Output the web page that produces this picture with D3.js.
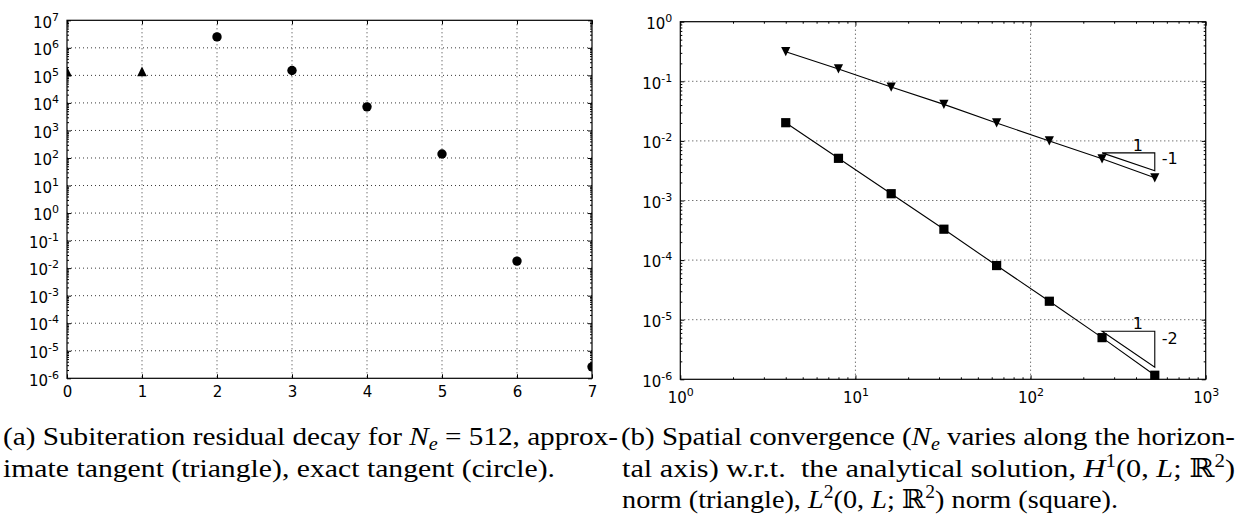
<!DOCTYPE html>
<html lang="en">
<head>
  <meta charset="UTF-8">
  <title>Residual decay and spatial convergence</title>
  <script src="https://cdn.jsdelivr.net/npm/d3@7"></script>
  <style>
    body { margin: 0; background: #fff; }
    .tick text { font-family: "DejaVu Sans", sans-serif; font-size: 15px; fill: #000; }
  </style>
</head>
<body>
  <svg id="chart" width="1238" height="516"></svg>
  <script>
    // (a) subiteration residual decay
    let iterApprox = [0, 1];
    let residualApprox = [1.4e5, 1.4e5];
    let iterExact = [2, 3, 4, 5, 6, 7];
    let residualExact = [2.5e6, 1.5e5, 7.2e3, 1.4e2, 1.8e-2, 2.6e-6];
    let iterTicks = [0, 1, 2, 3, 4, 5, 6, 7];
    let leftDecades = d3.range(-6, 8);

    // (b) spatial convergence
    let Ne = [4, 8, 16, 32, 64, 128, 256, 512];
    let errH1 = [0.314, 0.161, 0.080, 0.041, 0.020, 0.0100, 0.0050, 0.0024];
    let errL2 = [0.0202, 0.0051, 0.0013, 3.3e-4, 8.1e-5, 2.04e-5, 5.0e-6, 1.17e-6];
    let rightXDecades = [0, 1, 2, 3];
    let rightYDecades = d3.range(-6, 1);

    // slope markers: x span, top edge, order
    let slopeX = [256, 512];
    let slopeTop = [6.3e-3, 6.4e-6];
    let slopeOrder = [1, 2];

    let svg = d3.select('#chart');

    function minorTicks(decades) {
      let out = [];
      for (let k = 0; k < decades.length - 1; k++) {
        for (let m = 2; m <= 9; m++) out.push(m * Math.pow(10, decades[k]));
      }
      return out;
    }

    function supLabel(sel) {
      sel.each(function(d) {
        let t = d3.select(this);
        let e = Math.round(Math.log10(d));
        t.text(null);
        t.append('tspan').text('10');
        t.append('tspan').attr('dy', -7).attr('font-size', 11).text(e < 0 ? '-' + (-e) : e);
      });
    }

    function frame(g, x, y) {
      let [x0, x1] = x.range();
      let [y1, y0] = y.range();
      g.append('rect')
        .attr('x', x0).attr('y', y0)
        .attr('width', x1 - x0).attr('height', y1 - y0)
        .attr('fill', 'none').attr('stroke', '#000').attr('stroke-width', 1.2);
    }

    function grid(g, x, y, xv, yv) {
      let [x0, x1] = x.range();
      let [y1, y0] = y.range();
      g.selectAll('.gx').data(xv).join('line')
        .attr('x1', d => x(d)).attr('x2', d => x(d))
        .attr('y1', y0).attr('y2', y1);
      g.selectAll('.gy').data(yv).join('line')
        .attr('class', 'gy')
        .attr('x1', x0).attr('x2', x1)
        .attr('y1', d => y(d)).attr('y2', d => y(d));
      g.selectAll('line')
        .attr('stroke', '#222').attr('stroke-width', 0.9)
        .attr('stroke-dasharray', '1,3');
    }

    function sideTicks(g, x, y, xv, yv, xminor, yminor, size) {
      let [x0, x1] = x.range();
      let [y1, y0] = y.range();
      let defs = [
        [d3.axisLeft(y), 'translate(' + x0 + ',0)', yv, size],
        [d3.axisRight(y), 'translate(' + x1 + ',0)', yv, size],
        [d3.axisBottom(x), 'translate(0,' + y1 + ')', xv, size],
        [d3.axisTop(x), 'translate(0,' + y0 + ')', xv, size],
        [d3.axisLeft(y), 'translate(' + x0 + ',0)', yminor, size / 2],
        [d3.axisRight(y), 'translate(' + x1 + ',0)', yminor, size / 2],
        [d3.axisBottom(x), 'translate(0,' + y1 + ')', xminor, size / 2],
        [d3.axisTop(x), 'translate(0,' + y0 + ')', xminor, size / 2]
      ];
      defs.forEach(([ax, tr, vals, s]) => {
        let a = g.append('g').attr('transform', tr)
          .call(ax.tickValues(vals).tickSizeInner(-s).tickSizeOuter(0).tickFormat(''));
        a.select('.domain').remove();
        a.selectAll('.tick line').attr('stroke', '#000').attr('stroke-width', 1);
        a.selectAll('.tick text').remove();
      });
    }

    // ---------- left panel ----------
    let xL = d3.scaleLinear().domain([0, 7]).range([67, 592]);
    let yL = d3.scaleLog().domain([1e-6, 1e7]).range([378.3, 20.3]);
    let gL = svg.append('g');
    let leftMajor = leftDecades.map(e => Math.pow(10, e));

    grid(gL.append('g'), xL, yL, iterTicks.slice(1, -1), leftMajor.slice(1, -1));
    sideTicks(gL, xL, yL, iterTicks, leftMajor, [], minorTicks(leftDecades), 4);

    gL.append('g').attr('transform', 'translate(67,0)')
      .call(d3.axisLeft(yL).tickValues(leftMajor).tickSize(0).tickPadding(8))
      .call(a => a.select('.domain').remove())
      .selectAll('.tick text').attr('dy', '0.45em').call(supLabel);

    gL.append('g').attr('transform', 'translate(0,378.3)')
      .call(d3.axisBottom(xL).tickValues(iterTicks).tickSize(0).tickPadding(8).tickFormat(d3.format('d')))
      .call(a => a.select('.domain').remove());

    svg.append('clipPath').attr('id', 'clipL').append('rect')
      .attr('x', 67).attr('y', 20.3).attr('width', 525).attr('height', 358);

    let marks = gL.append('g').attr('clip-path', 'url(#clipL)');
    marks.selectAll('.approx').data(iterApprox).join('path')
      .attr('d', (d, i) => {
        let cx = xL(d), cy = yL(residualApprox[i]), s = 4.8;
        return `M${cx},${cy - s}L${cx + s},${cy + s}L${cx - s},${cy + s}Z`;
      })
      .attr('fill', '#000');
    marks.selectAll('.exact').data(iterExact).join('circle')
      .attr('cx', d => xL(d))
      .attr('cy', (d, i) => yL(residualExact[i]))
      .attr('r', 4.7)
      .attr('fill', '#000');

    frame(gL, xL, yL);

    // ---------- right panel ----------
    let xR = d3.scaleLog().domain([1, 1000]).range([680.3, 1205.7]);
    let yR = d3.scaleLog().domain([1e-6, 1]).range([379.3, 21.7]);
    let gR = svg.append('g');
    let rxMajor = rightXDecades.map(e => Math.pow(10, e));
    let ryMajor = rightYDecades.map(e => Math.pow(10, e));

    grid(gR.append('g'), xR, yR, rxMajor.slice(1, -1), ryMajor.slice(1, -1));
    sideTicks(gR, xR, yR, rxMajor, ryMajor, minorTicks(rightXDecades), minorTicks(rightYDecades), 4);

    gR.append('g').attr('transform', 'translate(680.3,0)')
      .call(d3.axisLeft(yR).tickValues(ryMajor).tickSize(0).tickPadding(8))
      .call(a => a.select('.domain').remove())
      .selectAll('.tick text').attr('dy', '0.45em').call(supLabel);

    gR.append('g').attr('transform', 'translate(0,379.3)')
      .call(d3.axisBottom(xR).tickValues(rxMajor).tickSize(0).tickPadding(13))
      .call(a => a.select('.domain').remove())
      .selectAll('.tick text').call(supLabel);

    let line = d3.line().x(d => xR(d[0])).y(d => yR(d[1]));
    let seriesR = [
      { vals: errH1, shape: 'down' },
      { vals: errL2, shape: 'square' }
    ];
    seriesR.forEach(s => {
      let pts = Ne.map((n, i) => [n, s.vals[i]]);
      gR.append('path').attr('d', line(pts))
        .attr('fill', 'none').attr('stroke', '#000').attr('stroke-width', 1.1);
      gR.selectAll(null).data(pts).join('path')
        .attr('d', d => {
          let cx = xR(d[0]), cy = yR(d[1]), h = 4.6;
          if (s.shape === 'down') return `M${cx - h},${cy - h}L${cx + h},${cy - h}L${cx},${cy + h}Z`;
          return `M${cx - h},${cy - h}h${2 * h}v${2 * h}h${-2 * h}Z`;
        })
        .attr('fill', '#000');
    });

    // slope triangles
    slopeTop.forEach((top, i) => {
      let bot = top / Math.pow(slopeX[1] / slopeX[0], slopeOrder[i]);
      let xa = xR(slopeX[0]), xb = xR(slopeX[1]);
      let ya = yR(top), yb = yR(bot);
      gR.append('path')
        .attr('d', `M${xa},${ya}L${xb},${ya}L${xb},${yb}Z`)
        .attr('fill', 'none').attr('stroke', '#000').attr('stroke-width', 1.1);
      gR.append('text')
        .attr('x', xb - 17).attr('y', ya - 2)
        .attr('text-anchor', 'middle')
        .attr('font-family', 'DejaVu Sans').attr('font-size', 16).attr('fill', '#000')
        .text('1');
      gR.append('text')
        .attr('x', xb + 7).attr('y', ya + 9 + 2 * slopeOrder[i])
        .attr('font-family', 'DejaVu Sans').attr('font-size', 16).attr('fill', '#000')
        .text('-' + slopeOrder[i]);
    });

    frame(gR, xR, yR);

    // ---------- captions ----------
    // each line is fitted to the width it has in the typeset caption
    function caption(x, y, len, parts) {
      let t = svg.append('text')
        .attr('x', x).attr('y', y)
        .attr('font-family', '"Liberation Serif", "DejaVu Serif", serif')
        .attr('font-size', 26).attr('fill', '#000');
      parts.forEach(p => {
        let s = t.append('tspan').text(p.t);
        if (p.i) s.attr('font-style', 'italic');
        if (p.sub) s.attr('font-size', 18).attr('dy', 5);
        if (p.sup) s.attr('font-size', 18).attr('dy', -10);
        if (p.back) s.attr('dy', p.back);
      });
      t.attr('textLength', len).attr('lengthAdjust', 'spacingAndGlyphs');
    }

    caption(3, 445, 615, [
      { t: '(a) Subiteration residual decay for ' }, { t: 'N', i: 1 }, { t: 'e', i: 1, sub: 1 },
      { t: ' = 512, approx-', back: -5 }
    ]);
    caption(3, 477, 552, [{ t: 'imate tangent (triangle), exact tangent (circle).' }]);

    caption(621, 445, 614, [
      { t: '(b) Spatial convergence (' }, { t: 'N', i: 1 }, { t: 'e', i: 1, sub: 1 },
      { t: ' varies along the horizon-', back: -5 }
    ]);
    caption(622, 477, 613, [
      { t: 'tal axis) w.r.t.\u00a0 the analytical solution, ' }, { t: 'H', i: 1 }, { t: '1', sup: 1 },
      { t: '(0, ', back: 10 }, { t: 'L', i: 1 }, { t: '; ℝ' }, { t: '2', sup: 1 }, { t: ')', back: 10 }
    ]);
    caption(622, 508, 496, [
      { t: 'norm (triangle), ' }, { t: 'L', i: 1 }, { t: '2', sup: 1 },
      { t: '(0, ', back: 10 }, { t: 'L', i: 1 }, { t: '; ℝ' }, { t: '2', sup: 1 },
      { t: ') norm (square).', back: 10 }
    ]);
  </script>
</body>
</html>
